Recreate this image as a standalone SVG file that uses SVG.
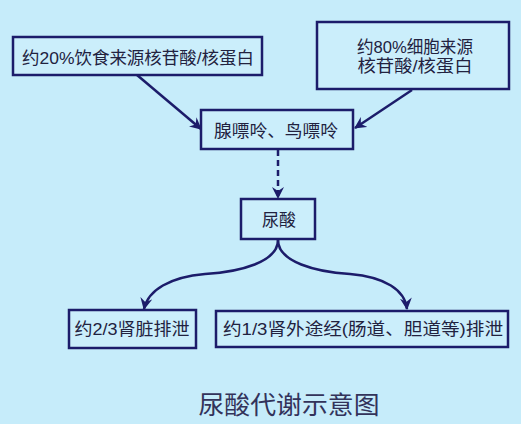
<svg xmlns="http://www.w3.org/2000/svg" width="521" height="424" viewBox="0 0 521 424">
<style>
.box{fill:#cbeefb;stroke:#1c1c6a;stroke-width:2.5}
.t{font-family:"Liberation Sans","Noto Sans CJK SC",sans-serif;font-size:17px;fill:#22223f;text-anchor:middle}
.c{fill:none;stroke:#1c1c6a;stroke-width:2.5}
</style>
<defs>
<marker id="ah" viewBox="0 0 12 12" refX="11" refY="6" markerWidth="12" markerHeight="12" markerUnits="userSpaceOnUse" orient="auto">
<path d="M0,0 L12,6 L0,12 L4,6 Z" fill="#1c1c6a"/>
</marker>
</defs>
<rect width="521" height="424" fill="#c6ecfa"/>
<g id="connectors">
<line class="c" x1="137" y1="75" x2="201" y2="129" marker-end="url(#ah)"/>
<line class="c" x1="412" y1="90" x2="355" y2="128" marker-end="url(#ah)"/>
<line class="c" x1="278" y1="150" x2="278" y2="198" stroke-dasharray="6,4" marker-end="url(#ah)"/>
<path class="c" d="M278,240 C278,262 240,272 205,274 C170,277 148,290 144,309" marker-end="url(#ah)"/>
<path class="c" d="M278,240 C278,262 316,272 350,274 C385,277 405,290 407,309" marker-end="url(#ah)"/>
</g>
<g id="n1">
<rect class="box" x="13" y="37" width="249" height="38"/>
<text class="t" x="138" y="64" textLength="232" lengthAdjust="spacingAndGlyphs">约20%饮食来源核苷酸/核蛋白</text>
</g>
<g id="n2">
<rect class="box" x="317" y="22" width="192" height="67"/>
<text class="t" x="415" y="53" textLength="116" lengthAdjust="spacingAndGlyphs">约80%细胞来源</text>
<text class="t" x="415" y="72" textLength="115" lengthAdjust="spacingAndGlyphs">核苷酸/核蛋白</text>
</g>
<g id="n3">
<rect class="box" x="201" y="110" width="152" height="39"/>
<text class="t" x="276" y="137" textLength="124" lengthAdjust="spacingAndGlyphs">腺嘌呤、鸟嘌呤</text>
</g>
<g id="n4">
<rect class="box" x="241" y="199" width="74" height="40"/>
<text class="t" x="279" y="226">尿酸</text>
</g>
<g id="n5">
<rect class="box" x="69" y="310" width="127" height="38"/>
<text class="t" x="132" y="335" textLength="115" lengthAdjust="spacingAndGlyphs">约2/3肾脏排泄</text>
</g>
<g id="n6">
<rect class="box" x="216" y="311" width="292" height="36"/>
<text class="t" x="363" y="335" textLength="280" lengthAdjust="spacingAndGlyphs">约1/3肾外途经(肠道、胆道等)排泄</text>
</g>
<text x="289" y="414" font-family="'Noto Sans CJK SC',sans-serif" font-size="25" fill="#33335a" text-anchor="middle" textLength="181" lengthAdjust="spacingAndGlyphs">尿酸代谢示意图</text>
</svg>
